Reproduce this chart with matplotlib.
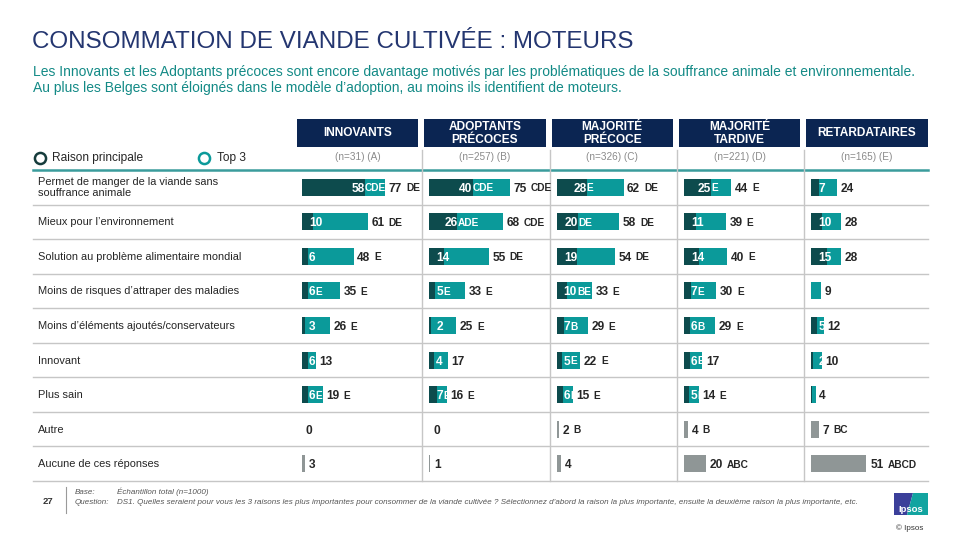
import matplotlib
matplotlib.use("Agg")
import matplotlib.pyplot as plt
from matplotlib.patches import Rectangle, Polygon
from matplotlib.transforms import Bbox, TransformedBbox

plt.rcParams['font.family'] = ['Liberation Sans', 'DejaVu Sans']

# ---------------- data ----------------
title = "CONSOMMATION DE VIANDE CULTIVÉE : MOTEURS"
subtitle = [
    "Les Innovants et les Adoptants précoces sont encore davantage motivés par les problématiques de la souffrance animale et environnementale.",
    "Au plus les Belges sont éloignés dans le modèle d’adoption, au moins ils identifient de moteurs.",
]
categories = [
    "Permet de manger de la viande sans\nsouffrance animale",
    "Mieux pour l’environnement",
    "Solution au problème alimentaire mondial",
    "Moins de risques d’attraper des maladies",
    "Moins d’éléments ajoutés/conservateurs",
    "Innovant",
    "Plus sain",
    "Autre",
    "Aucune de ces réponses",
]
groups = ["INNOVANTS", "ADOPTANTS\nPRÉCOCES", "MAJORITÉ\nPRÉCOCE", "MAJORITÉ\nTARDIVE", "RETARDATAIRES"]
bases = ["(n=31) (A)", "(n=257) (B)", "(n=326) (C)", "(n=221) (D)", "(n=165) (E)"]
legend_labels = ["Raison principale", "Top 3"]

# main reason (first 7 categories), per group
main_A = [58, 10, 6, 6, 3, 6, 6]
main_B = [40, 26, 14, 5, 2, 4, 7]
main_C = [28, 20, 19, 10, 7, 5, 6]
main_D = [25, 11, 14, 7, 6, 6, 5]
main_E = [7, 10, 15, 0, 5, 2, 1]
main_sig_A = ["CDE", "", "", "E", "", "", "E"]
main_sig_B = ["CDE", "ADE", "", "E", "", "", "E"]
main_sig_C = ["E", "DE", "", "BE", "B", "E", "E"]
main_sig_D = ["E", "", "", "E", "B", "E", "E"]
main_sig_E = ["", "", "", "", "", "", ""]

# top 3 (first 7 categories), per group
top3_A = [77, 61, 48, 35, 26, 13, 19]
top3_B = [75, 68, 55, 33, 25, 17, 16]
top3_C = [62, 58, 54, 33, 29, 22, 15]
top3_D = [44, 39, 40, 30, 29, 17, 14]
top3_E = [24, 28, 28, 9, 12, 10, 4]
top3_sig_A = ["DE", "DE", "E", "E", "E", "", "E"]
top3_sig_B = ["CDE", "CDE", "DE", "E", "E", "", "E"]
top3_sig_C = ["DE", "DE", "DE", "E", "E", "E", "E"]
top3_sig_D = ["E", "E", "E", "E", "E", "", "E"]
top3_sig_E = ["", "", "", "", "", "", ""]

# "Autre" and "Aucune de ces réponses", per group
other_A = [0, 3]
other_B = [0, 1]
other_C = [2, 4]
other_D = [4, 20]
other_E = [7, 51]
other_sig_A = ["", ""]
other_sig_B = ["", ""]
other_sig_C = ["B", ""]
other_sig_D = ["B", "ABC"]
other_sig_E = ["BC", "ABCD"]

mains = [main_A, main_B, main_C, main_D, main_E]
main_sigs = [main_sig_A, main_sig_B, main_sig_C, main_sig_D, main_sig_E]
tops = [top3_A, top3_B, top3_C, top3_D, top3_E]
top_sigs = [top3_sig_A, top3_sig_B, top3_sig_C, top3_sig_D, top3_sig_E]
others = [other_A, other_B, other_C, other_D, other_E]
other_sigs = [other_sig_A, other_sig_B, other_sig_C, other_sig_D, other_sig_E]

# ---------------- style ----------------
DARK = "#0d4b4d"
TEAL = "#0b9a9a"
GRAY = "#8f9696"
NAVY = "#0b2552"
TITLE_C = "#243670"
SUB_C = "#138a86"
TXT = "#262626"
LINE_C = "#c6c6c6"
NUM_FS = 8.6
SIG_FS = 7.3

W, H = 960, 540
fig = plt.figure(figsize=(9.6, 5.4), dpi=100)
bg = fig.add_axes([0, 0, 1, 1])
bg.set_xlim(0, W)
bg.set_ylim(H, 0)
bg.axis("off")

def px_axes(x0, y0, x1, y1):
    return fig.add_axes([x0 / W, 1 - y1 / H, (x1 - x0) / W, (y1 - y0) / H])

# title and subtitle
bg.text(32, 42, title, fontsize=17.4, color=TITLE_C, va="center", ha="left")
bg.text(33, 72, subtitle[0], fontsize=10.0, color=SUB_C, va="center", ha="left")
bg.text(33, 88, subtitle[1], fontsize=10.0, color=SUB_C, va="center", ha="left")

# legend
bg.plot([40], [158], marker="o", ms=8, mfc="white", mec="#163c3c", mew=1.8, ls="none")
bg.text(52, 158, legend_labels[0], fontsize=8.6, color=TXT, va="center")
bg.plot([204], [158], marker="o", ms=8, mfc="white", mec=TEAL, mew=1.8, ls="none")
bg.text(217, 158, legend_labels[1], fontsize=8.6, color=TXT, va="center")

# table geometry
ROW_TOP, ROW_BOT = 170, 481
n_rows = len(categories)
row_h = (ROW_BOT - ROW_TOP) / n_rows
col_w = 127.3
col_left0 = 295
bar_start0 = 302
PX = 1.08  # pixels per percentage point

# grid lines
for r in range(1, n_rows + 1):
    y = ROW_TOP + r * row_h
    bg.plot([33, 928], [y, y], color=LINE_C, lw=1)
bg.plot([33, 928], [ROW_TOP, ROW_TOP], color="#3a9c9c", lw=1.8)
for i in range(1, 5):
    x = col_left0 + i * col_w
    bg.plot([x, x], [150, ROW_BOT], color=LINE_C, lw=1)

# headers
for i, (g, b) in enumerate(zip(groups, bases)):
    xl = col_left0 + i * col_w + 2
    bg.add_patch(Rectangle((xl, 119), col_w - 6, 28, color=NAVY, lw=0))
    cx = xl + (col_w - 6) / 2
    bg.text(cx, 133.5, g, fontsize=8.6, color="white", fontweight="bold",
            ha="center", va="center", linespacing=1.2)
    bg.text(cx, 157, b, fontsize=7.2, color="#8a8a8a", ha="center", va="center")

# row labels
for r, c in enumerate(categories):
    y = ROW_TOP + (r + 0.5) * row_h
    bg.text(38, y + 0.5, c, fontsize=7.9, color=TXT, ha="left", va="center", linespacing=1.1)

fig.canvas.draw()
renderer = fig.canvas.get_renderer()

def width_units(t):
    return t.get_window_extent(renderer=renderer).width / PX

rows_main = list(range(7))
rows_other = [7, 8]
BH = 0.49
for i in range(5):
    x0 = bar_start0 + i * col_w
    ax = px_axes(x0, ROW_TOP, x0 + 120, ROW_BOT)
    ax.set_xlim(0, 120 / PX)
    ax.set_ylim(n_rows - 0.5, -0.5)
    ax.axis("off")
    ax.barh(rows_main, tops[i], height=BH, color=TEAL, lw=0)
    ax.barh(rows_main, mains[i], height=BH, color=DARK, lw=0)
    ax.barh(rows_other, others[i], height=BH, color=GRAY, lw=0)

    for r in rows_main:
        m, t = mains[i][r], tops[i][r]
        clip = TransformedBbox(Bbox([[0, r - BH / 2], [t, r + BH / 2]]), ax.transData)
        if m > 0:
            tn = ax.text(0, r, str(m), color="white", fontsize=NUM_FS, fontweight="bold",
                         ha="left", va="center_baseline")
            w = width_units(tn)
            x = max(m - w, 7 / PX)
            tn.set_x(x)
            tn.set_clip_box(clip)
            tn.set_clip_on(True)
            if main_sigs[i][r]:
                tl = ax.text(x + w, r, main_sigs[i][r], color="white", fontsize=SIG_FS,
                             fontweight="bold", ha="left", va="center_baseline")
                tl.set_clip_box(clip)
                tl.set_clip_on(True)
        # top 3 label
        tt = ax.text(t + 3.5 / PX, r, str(t), color=TXT, fontsize=NUM_FS, fontweight="bold",
                     ha="left", va="center_baseline")
        w = width_units(tt)
        if top_sigs[i][r]:
            ax.text(t + 3.5 / PX + w + 4 / PX, r, top_sigs[i][r], color=TXT, fontsize=SIG_FS,
                    fontweight="bold", ha="left", va="center_baseline")

    for k, r in enumerate(rows_other):
        v = others[i][k]
        x = v + 4 / PX
        to = ax.text(x, r, str(v), color=TXT, fontsize=NUM_FS, fontweight="bold",
                     ha="left", va="center_baseline")
        w = width_units(to)
        if other_sigs[i][k]:
            ax.text(x + w + 4 / PX, r, other_sigs[i][k], color=TXT, fontsize=SIG_FS,
                    fontweight="bold", ha="left", va="center_baseline")

# footer
bg.text(48, 502, "27", fontsize=6.8, fontweight="bold", color="#333333", ha="center", va="center")
bg.plot([66, 66], [487, 513], color="#9a9a9a", lw=0.8)
FT = dict(fontsize=5.75, style="italic", color="#555555", va="center")
bg.text(75, 492, "Base:", **FT)
bg.text(117, 492, "Échantillon total (n=1000)", **FT)
bg.text(75, 502, "Question:", **FT)
bg.text(117, 502, "DS1. Quelles seraient pour vous les 3 raisons les plus importantes pour consommer de la viande "
        "cultivée ? Sélectionnez d’abord la raison la plus importante, ensuite la deuxième raison la plus importante, etc.",
        **FT)

# logo
bg.add_patch(Polygon([[894, 493], [913, 493], [907, 515], [894, 515]], closed=True, color="#3b3f9a", lw=0))
bg.add_patch(Polygon([[913, 493], [928, 493], [928, 515], [907, 515]], closed=True, color="#12a4a0", lw=0))
bg.text(911, 509, "Ipsos", fontsize=6.8, fontweight="bold", color="white", ha="center", va="center")
bg.text(910, 528, "© Ipsos", fontsize=5.8, color="#333333", ha="center", va="center")

fig.savefig("out.png", dpi=100)
